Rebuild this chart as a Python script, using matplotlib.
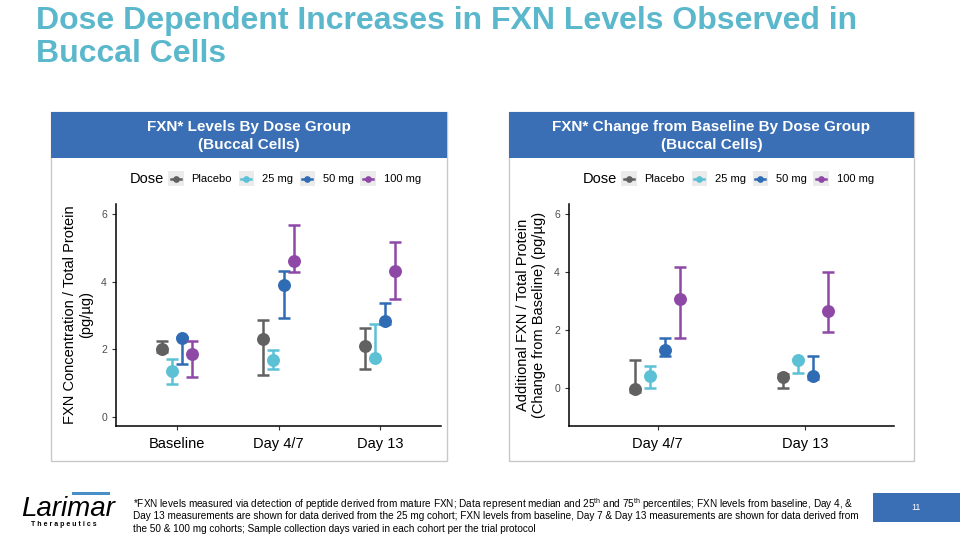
import matplotlib
matplotlib.use("Agg")
import matplotlib.pyplot as plt
from matplotlib.patches import Rectangle
from matplotlib.lines import Line2D
from matplotlib.legend_handler import HandlerBase
import numpy as np

plt.rcParams['font.family'] = ['Liberation Sans', 'DejaVu Sans']
plt.rcParams['mathtext.fontset'] = 'custom'
plt.rcParams['mathtext.rm'] = 'Liberation Sans'

doses = ['Placebo', '25 mg', '50 mg', '100 mg']
colors = ['#616161', '#5cc1d4', '#2f6cb4', '#8e48a6']

# Left panel: FXN levels
visits_left = ['Baseline', 'Day 4/7', 'Day 13']
med_left = {
    'Placebo': [2.00, 2.29, 2.09],
    '25 mg':   [1.36, 1.69, 1.75],
    '50 mg':   [2.32, 3.90, 2.83],
    '100 mg':  [1.85, 4.61, 4.33],
}
q25_left = {
    'Placebo': [1.93, 1.25, 1.43],
    '25 mg':   [0.97, 1.42, 1.70],
    '50 mg':   [1.57, 2.92, 2.76],
    '100 mg':  [1.17, 4.28, 3.50],
}
q75_left = {
    'Placebo': [2.24, 2.88, 2.64],
    '25 mg':   [1.70, 1.98, 2.74],
    '50 mg':   [2.35, 4.32, 3.37],
    '100 mg':  [2.24, 5.68, 5.17],
}

# Right panel: change from baseline
visits_right = ['Day 4/7', 'Day 13']
med_right = {
    'Placebo': [-0.05, 0.37],
    '25 mg':   [0.39, 0.94],
    '50 mg':   [1.29, 0.39],
    '100 mg':  [3.05, 2.65],
}
q25_right = {
    'Placebo': [-0.17, -0.02],
    '25 mg':   [0.00, 0.49],
    '50 mg':   [1.09, 0.31],
    '100 mg':  [1.71, 1.92],
}
q75_right = {
    'Placebo': [0.97, 0.48],
    '25 mg':   [0.74, 1.00],
    '50 mg':   [1.70, 1.09],
    '100 mg':  [4.16, 4.00],
}

W, H = 960, 540
fig = plt.figure(figsize=(9.6, 5.4), dpi=100)

def fx(px):
    return px / W

def fy(py):
    return 1 - py / H

blue = '#3a6fb5'
teal = '#5bb8cc'

# Title (two lines)
fig.text(fx(36), fy(29), 'Dose Dependent Increases in FXN Levels Observed in',
         color=teal, fontsize=23, fontweight='bold', ha='left', va='baseline')
fig.text(fx(36), fy(62), 'Buccal Cells',
         color=teal, fontsize=23, fontweight='bold', ha='left', va='baseline')

# Panel boxes and headers
def panel(x0, x1, title):
    fig.patches.append(Rectangle((fx(x0), fy(461)), fx(x1 - x0), (461 - 112) / H,
                                 transform=fig.transFigure, fc='white', ec='#c8c8c8', lw=1, zorder=0))
    fig.patches.append(Rectangle((fx(x0), fy(158)), fx(x1 - x0), (158 - 112) / H,
                                 transform=fig.transFigure, fc=blue, ec='none', zorder=1))
    fig.text(fx((x0 + x1) / 2), fy(136), title, color='white', fontsize=11, fontweight='bold',
             ha='center', va='center', linespacing=1.4)

panel(51, 447, 'FXN* Levels By Dose Group\n(Buccal Cells)')
panel(509, 914, 'FXN* Change from Baseline By Dose Group\n(Buccal Cells)')

def draw(ax, visits, med, lo, hi, ylim, xlim, yticks):
    x = np.arange(1, len(visits) + 1)
    for i, d in enumerate(doses):
        off = (i - 1.5) * 0.1
        m = np.array(med[d])
        l = np.array(lo[d])
        h = np.array(hi[d])
        ax.errorbar(x + off, m, yerr=[m - l, h - m], fmt='o', color=colors[i],
                    ms=8.3, elinewidth=1.8, capsize=4.3, capthick=1.8, zorder=3 + i)
    ax.set_xlim(*xlim)
    ax.set_ylim(*ylim)
    ax.set_xticks(x)
    ax.set_xticklabels(visits, fontsize=10.5, color='black')
    ax.set_yticks(yticks)
    ax.set_yticklabels([str(t) for t in yticks], fontsize=7.5, color='#4d4d4d')
    for s in ['top', 'right']:
        ax.spines[s].set_visible(False)
    for s in ['left', 'bottom']:
        ax.spines[s].set_linewidth(1.1)
        ax.spines[s].set_color('black')
    ax.tick_params(axis='both', length=3, width=0.8, color='#333333')
    ax.tick_params(axis='x', pad=5)
    ax.set_facecolor('none')
    ax.set_zorder(5)

axL = fig.add_axes([fx(116), fy(426), fx(441 - 116), (426 - 204) / H])
draw(axL, visits_left, med_left, q25_left, q75_left, (-0.27, 6.3), (0.4, 3.6), [0, 2, 4, 6])
axL.set_ylabel('FXN Concentration / Total Protein\n(pg/µg)', fontsize=10.5, labelpad=6)

axR = fig.add_axes([fx(569), fy(426), fx(894 - 569), (426 - 204) / H])
draw(axR, visits_right, med_right, q25_right, q75_right, (-1.33, 6.35), (0.4, 2.6), [0, 2, 4, 6])
axR.set_ylabel('Additional FXN / Total Protein\n(Change from Baseline) (pg/µg)', fontsize=10.5, labelpad=6)


class KeyHandler(HandlerBase):
    """ggplot-style legend key: grey square with a line and a point."""
    def create_artists(self, legend, orig_handle, xdescent, ydescent, width, height, fontsize, trans):
        c = orig_handle.get_color()
        x0, y0 = -xdescent, -ydescent
        bg = Rectangle((x0, y0 - 2), width, height + 4, fc='#ebebeb', ec='none', transform=trans)
        ln = Line2D([x0 + 2, x0 + width - 2], [y0 + height / 2] * 2, color=c, lw=1.8, transform=trans)
        pt = Line2D([x0 + width / 2], [y0 + height / 2], marker='o', ms=3.8, color=c,
                    linestyle='none', transform=trans)
        return [bg, ln, pt]


# Legends
def legend(ax, dose_x):
    handles = [Line2D([], [], color=c) for c in colors]
    leg = ax.legend(handles, doses, handler_map={Line2D: KeyHandler()},
                    ncol=4, frameon=False, fontsize=8, loc='center left',
                    bbox_to_anchor=(fx(dose_x + 38), fy(179)), bbox_transform=fig.transFigure,
                    handlelength=1.4, handleheight=1.0, handletextpad=0.7, columnspacing=0.6,
                    borderaxespad=0, borderpad=0)
    fig.text(fx(dose_x), fy(179), 'Dose', fontsize=10.5, ha='left', va='center')
    return leg

legend(axL, 130)
legend(axR, 583)

# Footnote
foot_lines = [
    '*FXN levels measured via detection of peptide derived from mature FXN; Data represent median and 25$^{\\mathrm{th}}$ and 75$^{\\mathrm{th}}$ percentiles; FXN levels from baseline, Day 4, &',
    'Day 13 measurements are shown for data derived from the 25 mg cohort; FXN levels from baseline, Day 7 & Day 13 measurements are shown for data derived from',
    'the 50 & 100 mg cohorts; Sample collection days varied in each cohort per the trial protocol',
]
for k, line in enumerate(foot_lines):
    fig.text(fx(133), fy(504 + 12.3 * k), line, fontsize=7.2, ha='left', va='center', color='black')

# Page number box
fig.patches.append(Rectangle((fx(873), fy(522)), fx(960 - 873), (522 - 493) / H,
                             transform=fig.transFigure, fc=blue, ec='none'))
fig.text(fx(916), fy(507.5), '11', color='white', fontsize=6.5, ha='center', va='center')

# Logo
fig.text(fx(21), fy(516), 'Larimar', fontsize=20, style='italic', ha='left', va='baseline', color='black')
fig.text(fx(31), fy(524.5), 'T h e r a p e u t i c s', fontsize=5, fontweight='bold', ha='left', va='center')
fig.patches.append(Rectangle((fx(72), fy(495)), fx(38), 3 / H, transform=fig.transFigure,
                             fc='#4a90c8', ec='none'))

fig.savefig('out.png', dpi=100)
